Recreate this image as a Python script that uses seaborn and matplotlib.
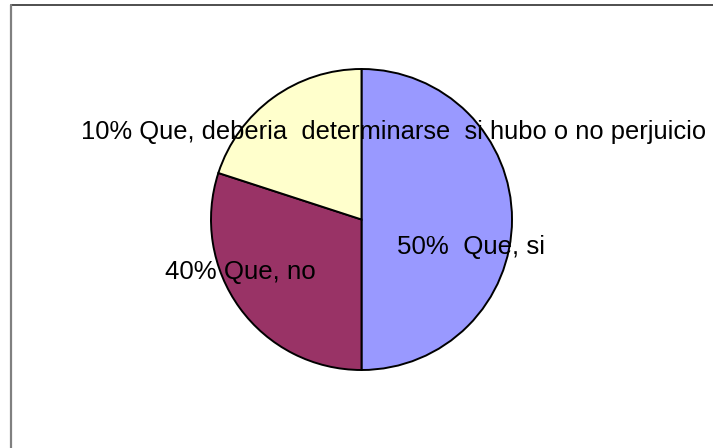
import matplotlib
matplotlib.use("Agg")
import matplotlib.pyplot as plt
import seaborn as sns
from matplotlib.lines import Line2D

sns.set_theme(style="white")
plt.rcParams['font.family'] = ['Liberation Sans', 'DejaVu Sans']

# Data (slice sizes as drawn; label texts as printed)
categories = ["Que, si", "Que, no", "Que, deberia determinarse si hubo o no perjuicio"]
values = [50, 30, 20]
label_texts = ["50%  Que, si", "40% Que, no",
               "10% Que, deberia  determinarse  si hubo o no perjuicio"]
colors = ["#9999FF", "#993366", "#FFFFCC"]

W, H = 713, 448
fig = plt.figure(figsize=(W / 100, H / 100), dpi=100)
fig.patch.set_facecolor("white")

# Frame lines (chart area border, cut off at right/bottom)
fig.add_artist(Line2D([10.5 / W, 1.0], [1 - 5 / H, 1 - 5 / H], transform=fig.transFigure,
                      color="#404040", lw=1.3))
fig.add_artist(Line2D([10.8 / W, 10.8 / W], [0.0, 1 - 5 / H], transform=fig.transFigure,
                      color="#808080", lw=1.6))

cx, cy, r = 361.5, 219.5, 150.5
ax = fig.add_axes([(cx - r) / W, (H - cy - r) / H, 2 * r / W, 2 * r / H])
wedges, _ = ax.pie(values, colors=colors, startangle=90, counterclock=False,
                   radius=1.0,
                   wedgeprops=dict(edgecolor="black", linewidth=1.4))
for w in wedges:
    w.set_clip_on(False)
ax.set_xlim(-1, 1)
ax.set_ylim(-1, 1)
ax.set_aspect("equal")
ax.axis("off")

# label positions in pixel space -> data coords
def px_to_data(px, py):
    return (px - cx) / r, (cy - py) / r

label_pos = [(397, 247), (165, 272), (81, 132)]
sizes = [18.6, 18.6, 18.4]
for txt, (px, py), fs in zip(label_texts, label_pos, sizes):
    x, y = px_to_data(px, py)
    ax.text(x, y, txt, ha="left", va="center", fontsize=fs, color="black",
            clip_on=False, zorder=5)

fig.savefig("out.png", dpi=100, facecolor="white")
